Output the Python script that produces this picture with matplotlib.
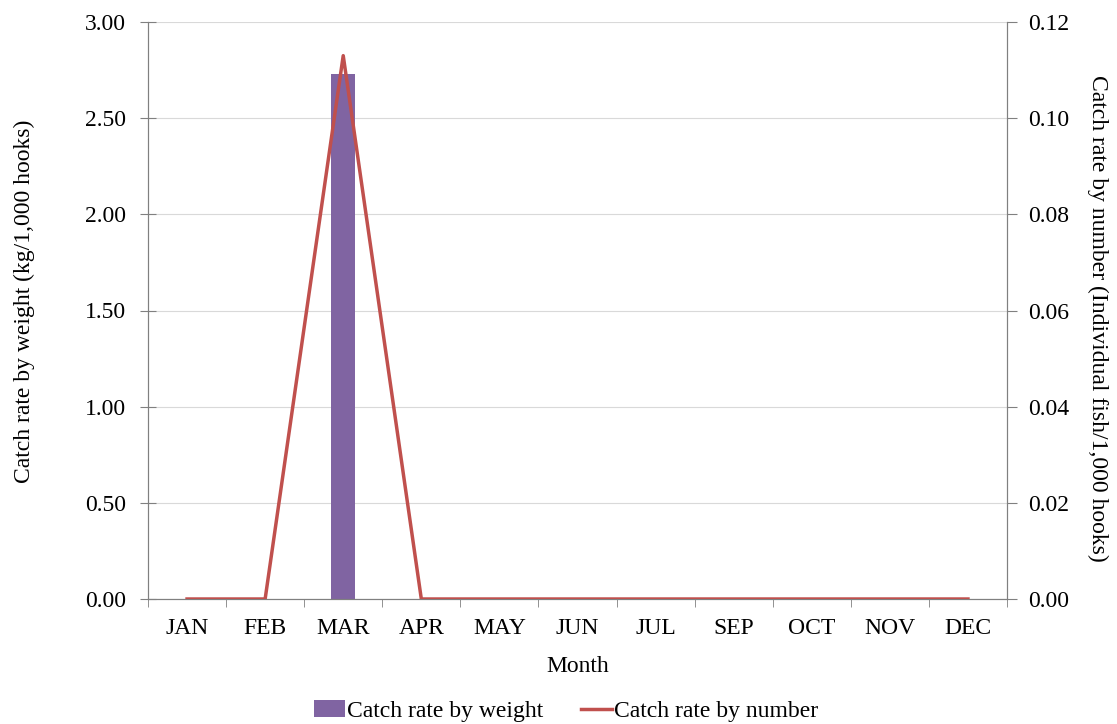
import matplotlib.pyplot as plt
import numpy as np

plt.rcParams['font.family'] = ['Liberation Serif', 'DejaVu Serif']

months = ["JAN", "FEB", "MAR", "APR", "MAY", "JUN", "JUL", "SEP", "OCT", "NOV", "DEC"]
weight_rate = [0, 0, 2.73, 0, 0, 0, 0, 0, 0, 0, 0]
number_rate = [0, 0, 0.113, 0, 0, 0, 0, 0, 0, 0, 0]

FS = 17
fig = plt.figure(figsize=(11.17, 7.24), dpi=100)
ax = fig.add_axes([148/1117, 1 - 599/724, 859/1117, 577/724])
x = np.arange(len(months))

ax.bar(x, weight_rate, width=0.31, color='#8064A2', label='Catch rate by weight', zorder=2)
ax.set_xlim(-0.5, len(months) - 0.5)
ax.set_ylim(0, 3.0)
ax.set_yticks(np.arange(0, 3.01, 0.5))
ax.set_yticklabels([f"{v:.2f}" for v in np.arange(0, 3.01, 0.5)])
ax.grid(axis='y', color='#d9d9d9', linewidth=0.8, zorder=0)
ax.set_axisbelow(True)
ax.set_xticks(x)
ax.set_xticklabels(months)
ax.set_xticks(np.arange(-0.5, len(months)), minor=True)
ax.tick_params(axis='x', which='major', length=0, labelsize=FS, pad=14)
ax.tick_params(axis='x', which='minor', length=6, color='#808080')
ax.tick_params(axis='y', labelsize=FS, length=12, direction='inout', color='#808080', pad=10)
ax.set_xlabel("Month", fontsize=FS, labelpad=12)
ax.set_ylabel("Catch rate by weight (kg/1,000 hooks)", fontsize=FS, labelpad=36)
ax.yaxis.label.set_y(0.516)
ax.spines['top'].set_visible(False)
for s in ['left', 'bottom', 'right']:
    ax.spines[s].set_color('#808080')

ax2 = ax.twinx()
ax2.plot(x, number_rate, color='#C0504D', linewidth=2.5, label='Catch rate by number', zorder=3)
ax2.set_ylim(0, 0.12)
ax2.set_yticks(np.arange(0, 0.121, 0.02))
ax2.set_yticklabels([f"{v:.2f}" for v in np.arange(0, 0.121, 0.02)])
ax2.tick_params(axis='y', labelsize=FS, length=7, color='#808080', pad=8)
ax2.set_ylabel("Catch rate by number (Individual fish/1,000 hooks)", fontsize=FS, rotation=270, labelpad=28)
ax2.yaxis.label.set_y(0.487)
ax2.spines['top'].set_visible(False)
for s in ['left', 'bottom', 'right']:
    ax2.spines[s].set_color('#808080')

h1, l1 = ax.get_legend_handles_labels()
h2, l2 = ax2.get_legend_handles_labels()
fig.legend(h1 + h2, l1 + l2, loc='center', bbox_to_anchor=(566/1117, 1 - 711/724), ncol=2,
           frameon=False, fontsize=FS, handlelength=1.3, handletextpad=0.1, columnspacing=1.6)

fig.savefig("out.png", dpi=100)
